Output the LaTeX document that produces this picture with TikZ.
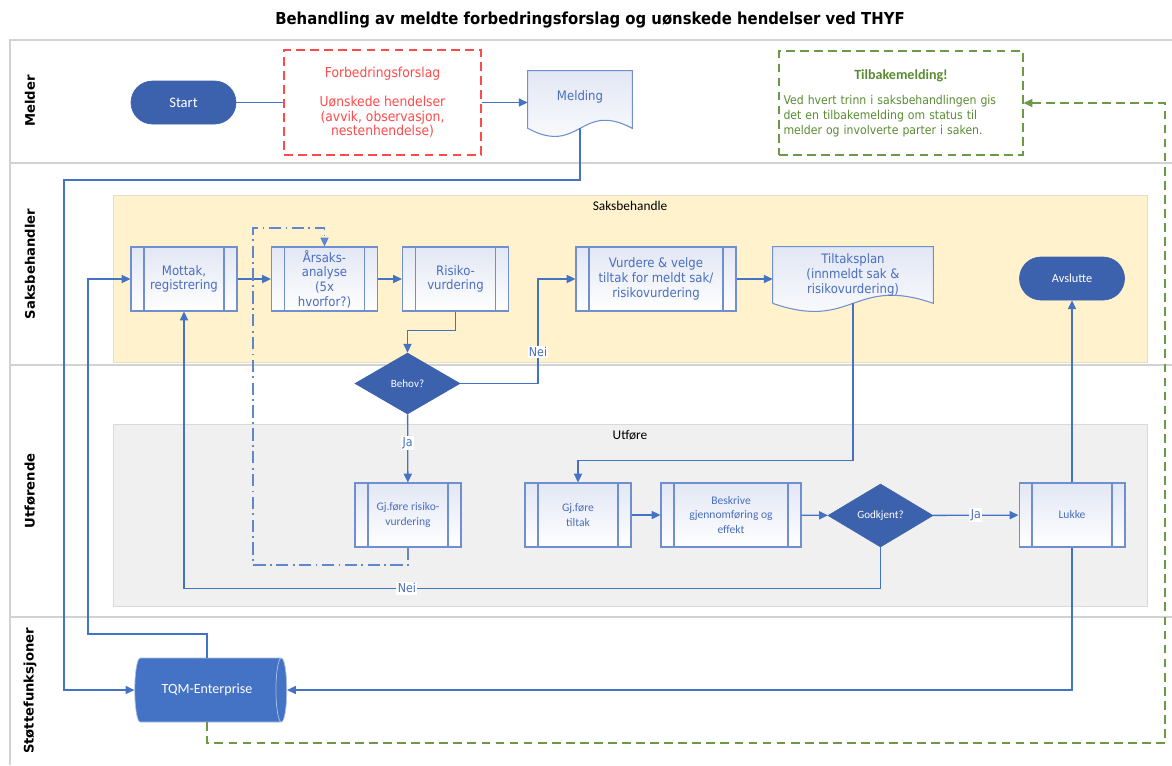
\documentclass[tikz,border=0pt]{standalone}
\usepackage{fontspec}
\usetikzlibrary{shapes.geometric,arrows.meta,backgrounds}
\newfontfamily\tahoma{DejaVu Sans}[FakeStretch=0.9]
\newfontfamily\verd{DejaVu Sans}
\newfontfamily\calib{Carlito}
\definecolor{linec}{HTML}{4472C4}
\definecolor{boxline}{HTML}{6F8FD0}
\definecolor{boxtop}{HTML}{E2E7F4}
\definecolor{txtblue}{HTML}{4A6EBE}
\definecolor{darkb}{HTML}{3D62AD}
\definecolor{tqmc}{HTML}{4472C4}
\definecolor{yellowf}{HTML}{FFF2CC}
\definecolor{yellowd}{HTML}{E6DEC4}
\definecolor{grayf}{HTML}{F0F0F0}
\definecolor{grayd}{HTML}{D9D9D9}
\definecolor{laned}{HTML}{D2D2D2}
\definecolor{redc}{HTML}{FF4A4A}
\definecolor{greenl}{HTML}{6A9A45}
\definecolor{greent}{HTML}{5A8C33}
\tikzset{
  conn/.style={linec, line width=0.75pt},
  arr/.style={conn, -{Triangle[length=5pt,width=4.6pt]}},
  bigtxt/.style={font=\tahoma\fontsize{7.4}{8.4}\selectfont},
  smtxt/.style={font=\calib\fontsize{6.6}{8.3}\selectfont},
  proc/.style={rectangle, draw=boxline, line width=0.6pt, top color=boxtop, bottom color=white,
    text=txtblue, align=center, inner sep=1pt, bigtxt,
    minimum width=2.12cm, minimum height=1.28cm,
    path picture={\draw[boxline, line width=0.6pt]
      ([xshift=0.26cm]path picture bounding box.north west) -- ([xshift=0.26cm]path picture bounding box.south west)
      ([xshift=-0.26cm]path picture bounding box.north east) -- ([xshift=-0.26cm]path picture bounding box.south east);}},
  doc/.style={rectangle, text=txtblue, align=center, inner sep=1pt, bigtxt,
    minimum width=2.08cm, minimum height=1.14cm},
  pill/.style={rectangle, rounded corners=0.43cm, fill=darkb, draw=darkb, text=white,
    minimum width=2.1cm, minimum height=0.86cm, font=\calib\fontsize{7}{8}\selectfont},
  beslutning/.style={diamond, fill=darkb, draw=darkb, text=white, inner sep=0pt,
    minimum width=2.1cm, minimum height=1.22cm, font=\calib\fontsize{6.3}{7}\selectfont},
  tqmcyl/.style={cylinder, shape aspect=0.7, draw=white!55!tqmc, cylinder uses custom fill,
    cylinder body fill=tqmc, cylinder end fill=tqmc, text=white, inner sep=1pt,
    minimum width=1.28cm, minimum height=3.04cm, font=\calib\fontsize{8}{9}\selectfont},
  lbl/.style={fill=white, inner sep=0.8pt, text=txtblue, font=\tahoma\fontsize{7}{8}\selectfont},
  lane/.style={rotate=90, font=\verd\bfseries\fontsize{7.5}{9}\selectfont},
  arealbl/.style={font=\calib\fontsize{7.6}{9}\selectfont},
  gline/.style={greenl, line width=0.8pt, dash pattern=on 5pt off 3pt},
}

\begin{document}
\begin{tikzpicture}[x=0.02cm, y=-0.02cm]
\useasboundingbox (0,0) rectangle (1172,765);
\begin{scope}[on background layer]
\fill[white] (0,0) rectangle (1172,765);
\draw[laned, line width=1pt] (1172,40) -- (10,40) -- (10,765);
\foreach \y in {163,365,617}
  \draw[laned, line width=1pt] (10,\y) -- (1172,\y);
\draw[yellowd, fill=yellowf] (113,195) rectangle (1147,362);
\draw[grayd, fill=grayf] (113,424) rectangle (1147,606);
\end{scope}

\node[font=\tahoma\bfseries\fontsize{9.4}{11}\selectfont] (title) at (590,20) {Behandling av meldte forbedringsforslag og uønskede hendelser ved THYF};

\node[lane] (lmelder) at (30,101) {Melder};
\node[lane] (lsaks) at (30,264) {Saksbehandler};
\node[lane] (lutf) at (30,491) {Utførende};
\node[lane] (lstotte) at (30,691) {Støttefunksjoner};

\node[arealbl] (asaks) at (630,206) {Saksbehandle};
\node[arealbl] (autf) at (630,435) {Utføre};

\node[pill, font=\calib\fontsize{8.3}{9}\selectfont] (start) at (183.5,102.5) {Start};
\node[draw=redc, dash pattern=on 5pt off 3pt, line width=0.7pt, text=redc, align=center,
  minimum width=3.94cm, minimum height=2.1cm, font=\tahoma\fontsize{7.8}{8.3}\selectfont]
  (forslag) at (382.5,102.5) {Forbedringsforslag\\[8.3pt]Uønskede hendelser\\(avvik, observasjon,\\nestenhendelse)};
\node[doc] (meld) at (580,99.5) {Melding\\[-4pt]};
\node[draw=greenl, dash pattern=on 5pt off 3pt, line width=0.7pt, text=greent, align=left,
  text width=4.7cm, minimum width=4.88cm, minimum height=2.08cm, inner sep=2pt,
  font=\tahoma\fontsize{6.9}{8.5}\selectfont]
  (tilbake) at (901,103) {\hfill{\calib\bfseries\fontsize{8}{9}\selectfont Tilbakemelding!}\hfill\mbox{}\\[6pt]Ved hvert trinn i saksbehandlingen gis\\det en tilbakemelding om status til\\melder og involverte parter i saken.};

\node[proc] (mottak) at (184,279) {Mottak,\\registrering};
\node[proc] (arsak) at (324.5,279) {Årsaks-\\analyse\\(5x\\hvorfor?)};
\node[proc] (risiko) at (455.5,279) {Risiko-\\vurdering};
\node[proc, minimum width=3.2cm] (vurdere) at (656,279) {Vurdere \& velge\\tiltak for meldt sak/\\risikovurdering};
\node[doc, minimum width=3.2cm, minimum height=1.12cm] (tiltak) at (853,275) {Tiltaksplan\\(innmeldt sak \&\\risikovurdering)};
\node[pill] (avslutt) at (1072,278.5) {Avslutte};
\node[beslutning] (behov) at (407.5,383.5) {Behov?};

\node[proc, smtxt] (gjrisiko) at (408,515) {Gj.føre risiko-\\vurdering};
\node[proc, smtxt] (gjtiltak) at (578,515) {Gj.føre\\tiltak};
\node[proc, smtxt, minimum width=2.8cm] (beskriv) at (731,515) {Beskrive\\gjennomføring og\\effekt};
\node[beslutning, minimum height=1.26cm] (godkj) at (880.5,515.5) {Godkjent?};
\node[proc, smtxt] (lukke) at (1072,515) {Lukke};

\node[tqmcyl] (tqm) at (207,690) {TQM-Enterprise};

\begin{scope}[on background layer]
\foreach \d in {meld,tiltak}
  \draw[boxline, line width=0.6pt, top color=boxtop, bottom color=white]
    (\d.south west) -- (\d.north west) -- (\d.north east) -- (\d.south east)
    .. controls ([yshift=0.56cm]\d.south) and ([yshift=-0.56cm]\d.south) .. (\d.south west);
\end{scope}

\draw[conn] (start) -- (forslag);
\draw[arr] (forslag.east) -- (forslag.east -| meld.west);
\draw[arr] (meld.south) |- (64,180) |- (tqm.west);
\draw[arr] (tqm.north) |- (88,634) |- (mottak.west);
\draw[arr] (mottak) -- (arsak);
\draw[arr] (arsak) -- (risiko);
\draw[arr] (risiko.south) -- ++(0,19) -| (behov.north);
\draw[arr] (behov.east) -| node[lbl, pos=0.65] {Nei} (538,279) -- (vurdere.west);
\draw[arr] (vurdere.east) -- (vurdere.east -| tiltak.west);
\draw[arr] (behov) -- node[lbl, pos=0.42] {Ja} (gjrisiko);
\draw[arr, linec!85, dash pattern=on 7pt off 2.5pt on 1pt off 2.5pt] (gjrisiko.south) |- (253,565) -- (253,228) -| (arsak.north);
\draw[arr] (tiltak.south) -- ++(0,157) -| (gjtiltak.north);
\draw[arr] (gjtiltak) -- (beskriv);
\draw[arr] (beskriv) -- (godkj);
\draw[arr] (godkj) -- node[lbl] {Ja} (lukke);
\draw[arr] (godkj.south) -- ++(0,41) -| node[lbl, pos=0.34] {Nei} (mottak.south);
\draw[arr] (lukke) -- (avslutt);
\draw[arr] (lukke.south) |- (tqm.east);
\draw[gline, -{Triangle[length=5pt,width=4.6pt]}] (tqm.south) |- (1165,743) |- (tilbake.east);
\end{tikzpicture}
\end{document}
